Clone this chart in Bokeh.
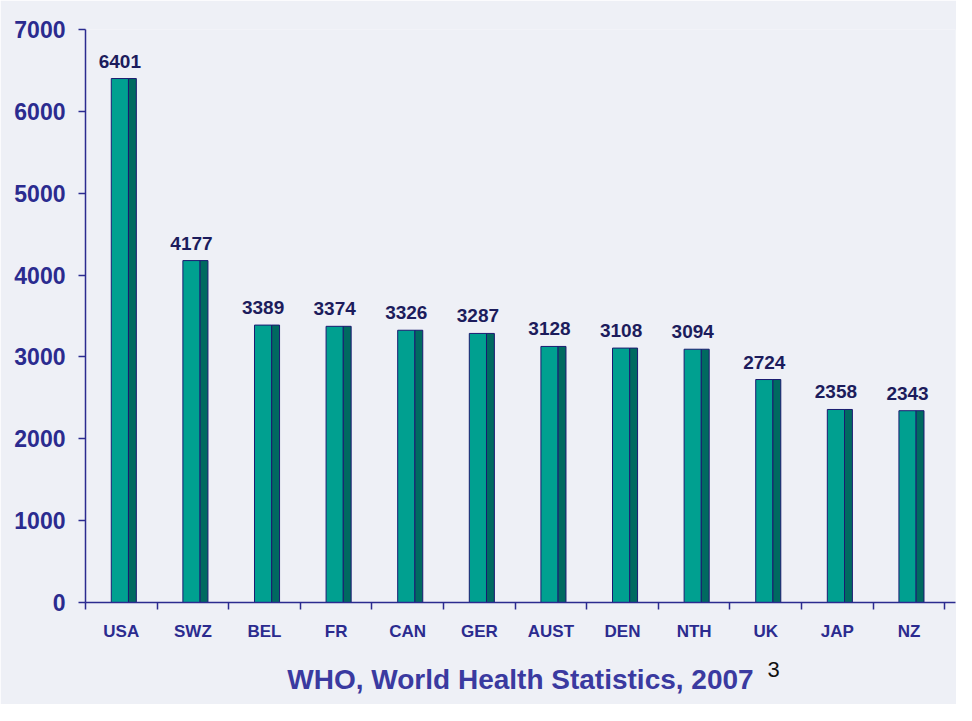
from bokeh.plotting import figure
from bokeh.models import ColumnDataSource, FixedTicker, LabelSet, Title, Range1d
from bokeh.transform import dodge
from bokeh.core.properties import value
from bokeh.embed import file_html
from bokeh.resources import INLINE

countries = ["USA", "SWZ", "BEL", "FR", "CAN", "GER", "AUST", "DEN", "NTH", "UK", "JAP", "NZ"]
spending = [6401, 4177, 3389, 3374, 3326, 3287, 3128, 3108, 3094, 2724, 2358, 2343]
y_ticks = [0, 1000, 2000, 3000, 4000, 5000, 6000, 7000]
title_text = "WHO, World Health Statistics, 2007"
footnote = "3"

xpos = [i + 0.5 for i in range(len(countries))]
src = ColumnDataSource(dict(x=xpos, y=spending, c=countries, lbl=[str(v) for v in spending]))

NAVY = "#2b2b8f"
p = figure(width=956, height=704, output_backend="svg", toolbar_location=None,
           x_range=Range1d(0, 12.15), y_range=Range1d(0, 7000),
           min_border_left=85, min_border_top=29, min_border_bottom=102, min_border_right=1)
p.background_fill_color = "#eef0f6"
p.border_fill_color = "#eef0f6"
p.outline_line_color = None
p.grid.grid_line_color = None

# bars: front face + darker side face
p.vbar(x=dodge("x", -0.02, range=p.x_range), top="y", width=0.24, bottom=0, source=src,
       fill_color="#00a090", line_color="#1a1a70", line_width=1)
p.vbar(x=dodge("x", 0.155, range=p.x_range), top="y", width=0.11, bottom=0, source=src,
       fill_color="#006a60", line_color="#1a1a70", line_width=1)

labels = LabelSet(x=dodge("x", -0.02, range=p.x_range), y="y", text="lbl", source=src,
                  y_offset=11, text_align="center", text_baseline="bottom",
                  text_font=value("Liberation Sans"), text_font_style="bold",
                  text_font_size="19px", text_color="#1c1c5c")
p.add_layout(labels)

# axes
xa = p.xaxis[0]
xa.ticker = FixedTicker(ticks=xpos, minor_ticks=list(range(13)))
xa.major_label_overrides = {x: c for x, c in zip(xpos, countries)}
xa.major_tick_out = 0
xa.major_tick_in = 0
xa.minor_tick_out = 7
xa.minor_tick_in = 0
xa.minor_tick_line_color = NAVY
xa.minor_tick_line_width = 1.5
xa.axis_line_color = NAVY
xa.axis_line_width = 1.5
xa.major_label_standoff = 12
xa.major_label_text_font = "Liberation Sans"
xa.major_label_text_font_style = "bold"
xa.major_label_text_font_size = "17px"
xa.major_label_text_color = NAVY
xa.axis_label = title_text
xa.axis_label_standoff = 20
xa.axis_label_text_font = "Liberation Sans"
xa.axis_label_text_font_style = "bold"
xa.axis_label_text_font_size = "28px"
xa.axis_label_text_color = "#3a3aa0"

ya = p.yaxis[0]
ya.ticker = FixedTicker(ticks=y_ticks, minor_ticks=[])
ya.major_tick_out = 7
ya.major_tick_in = 0
ya.major_tick_line_color = NAVY
ya.major_tick_line_width = 1.5
ya.axis_line_color = NAVY
ya.axis_line_width = 1.5
ya.major_label_standoff = 13
ya.major_label_text_font = "Liberation Sans"
ya.major_label_text_font_style = "bold"
ya.major_label_text_font_size = "23px"
ya.major_label_text_color = NAVY

p.add_layout(Title(text=footnote, align="left", offset=682, standoff=-72,
                   vertical_align="top",
                   text_font="Liberation Sans", text_font_style="normal",
                   text_font_size="22px", text_color="#111111"), "below")

html = file_html(p, INLINE)
html = html.replace("<body>", '<body style="background:#fafbe8">', 1)
open("out.html", "w").write(html)
